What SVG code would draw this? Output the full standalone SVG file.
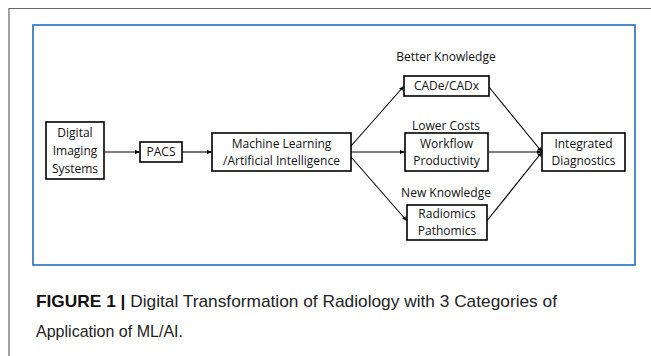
<svg xmlns="http://www.w3.org/2000/svg" width="651" height="356" viewBox="0 0 651 356">
<defs>
<marker id="ah" viewBox="0 0 10 10" refX="10" refY="5" markerWidth="5" markerHeight="5" orient="auto" markerUnits="userSpaceOnUse">
<path d="M0,1 L10,5 L0,9 z" fill="#000"/>
</marker>
<style>
.box{fill:#fff;stroke:#000;stroke-width:1.6}
.t{font-family:"Open Sans","Liberation Sans",sans-serif;font-size:12px;fill:#111;text-anchor:middle}
.c{stroke:#000;stroke-width:1.1;fill:none;marker-end:url(#ah)}
.cap{font-family:"Liberation Sans",Arial,sans-serif;font-size:17px;fill:#222}
</style>
</defs>
<rect width="651" height="356" fill="#fff"/>
<path d="M9,356 V8.5 H651" fill="none" stroke="#666" stroke-width="1.2"/>
<rect x="33" y="25" width="602" height="240" fill="none" stroke="#1f6fc0" stroke-width="1.6"/>

<g id="connectors">
<line class="c" x1="104" y1="152" x2="140" y2="152"/>
<line class="c" x1="182" y1="152" x2="212" y2="152"/>
<line class="c" x1="351" y1="146" x2="404" y2="86"/>
<line class="c" x1="351" y1="152" x2="405" y2="152"/>
<line class="c" x1="351" y1="157" x2="407" y2="221"/>
<line class="c" x1="489" y1="87" x2="542" y2="152"/>
<line class="c" x1="487" y1="152" x2="542" y2="152"/>
<line class="c" x1="486" y1="222" x2="542" y2="152"/>
</g>

<g id="digital">
<rect class="box" x="46" y="122" width="58" height="57"/>
<text class="t" x="75" y="137">Digital</text>
<text class="t" x="75" y="155">Imaging</text>
<text class="t" x="75" y="173">Systems</text>
</g>
<g id="pacs">
<rect class="box" x="140" y="142" width="42" height="20"/>
<text class="t" x="161" y="156">PACS</text>
</g>
<g id="mlai">
<rect class="box" x="212" y="133" width="139" height="38"/>
<text class="t" x="281.5" y="148">Machine Learning</text>
<text class="t" x="281.5" y="165">/Artificial Intelligence</text>
</g>
<g id="cad">
<text class="t" x="446" y="61">Better Knowledge</text>
<rect class="box" x="404" y="76" width="85" height="20"/>
<text class="t" x="446.5" y="90">CADe/CADx</text>
</g>
<g id="workflow">
<text class="t" x="446" y="130">Lower Costs</text>
<rect class="box" x="405" y="133" width="83" height="38"/>
<text class="t" x="446.5" y="148">Workflow</text>
<text class="t" x="446.5" y="165">Productivity</text>
</g>
<g id="radiomics">
<text class="t" x="446" y="197">New Knowledge</text>
<rect class="box" x="407" y="205" width="80" height="35"/>
<text class="t" x="447" y="218">Radiomics</text>
<text class="t" x="447" y="235">Pathomics</text>
</g>
<g id="integrated">
<rect class="box" x="542" y="133" width="83" height="38"/>
<text class="t" x="583.5" y="148">Integrated</text>
<text class="t" x="583.5" y="165">Diagnostics</text>
</g>

<g id="caption">
<text class="cap" x="36" y="307" textLength="521" lengthAdjust="spacingAndGlyphs"><tspan font-weight="bold" fill="#111">FIGURE 1 |</tspan> Digital Transformation of Radiology with 3 Categories of</text>
<text class="cap" x="36" y="337" textLength="147" lengthAdjust="spacingAndGlyphs">Application of ML/AI.</text>
</g>
</svg>
